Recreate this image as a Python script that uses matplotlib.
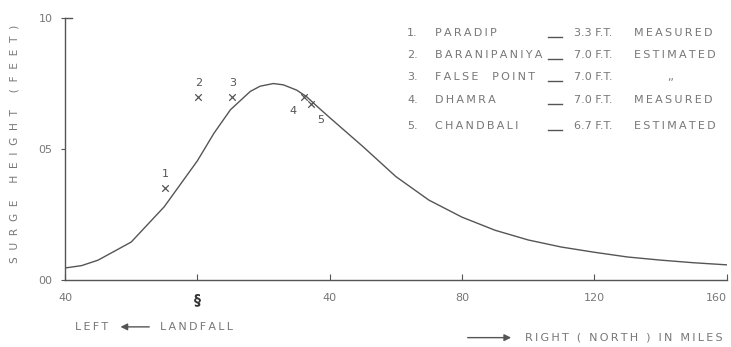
import matplotlib.pyplot as plt

# surge profile (miles from landfall, feet)
dist = [-40, -35, -30, -20, -10, 0, 5, 10, 16, 19, 23, 26, 30, 33, 36, 40,
        50, 60, 70, 80, 90, 100, 110, 120, 130, 140, 150, 160]
surge = [0.46, 0.55, 0.76, 1.45, 2.8, 4.55, 5.6, 6.5, 7.2, 7.4, 7.5, 7.45,
         7.25, 7.0, 6.65, 6.2, 5.1, 3.95, 3.05, 2.4, 1.9, 1.53, 1.26, 1.06,
         0.88, 0.76, 0.66, 0.58]

# observed stations
stn_num = ['1', '2', '3', '4', '5']
stn_x = [-9.7, 0.3, 10.6, 32.3, 34.4]
stn_y = [3.5, 7.0, 7.0, 7.0, 6.7]
stn_name = ['PARADIP', 'BARANIPANIYA', 'FALSE  POINT', 'DHAMRA', 'CHANDBALI']
stn_val = ['3.3 F.T.', '7.0 F.T.', '7.0 F.T.', '7.0 F.T.', '6.7 F.T.']
stn_note = ['MEASURED', 'ESTIMATED', ',,', 'MEASURED', 'ESTIMATED']

xticks = [-40, 0, 40, 80, 120, 160]
xlabels = ['40', '§', '40', '80', '120', '160']
yticks = [0, 5, 10]
ylabels = ['00', '05', '10']

ink = '#555555'
txt = '#777777'


def spaced(s):
    # stencil lettering is widely spaced
    return '\u2009'.join(s)


fig = plt.figure(figsize=(7.31, 3.47), dpi=100)
ax = fig.add_axes([0.089, 0.193, 0.905, 0.755])

ax.plot(dist, surge, color=ink, lw=1.0)
ax.scatter(stn_x, stn_y, marker='x', s=22, color=ink, lw=0.9, zorder=3)

# number labels next to the crosses
offs = [(0, 10), (0, 10), (0, 10), (-8, -10), (7, -11)]
for n, x, y, o in zip(stn_num, stn_x, stn_y, offs):
    ax.annotate(n, (x, y), xytext=o, textcoords='offset points',
                ha='center', va='center', fontsize=8, color=ink)

ax.set_xlim(-40, 160)
ax.set_ylim(0, 10)
ax.set_xticks(xticks)
ax.set_xticklabels(xlabels, fontsize=8, color=txt)
ax.set_yticks(yticks)
ax.set_yticklabels(ylabels, fontsize=8, color=txt)
ax.tick_params(axis='x', direction='in', length=4, color=ink, pad=9)
ax.tick_params(axis='y', direction='out', length=3, color=ink, pad=6)
sym = ax.get_xticklabels()[1]
sym.set_fontweight('bold')
sym.set_fontsize(10)
sym.set_color('#333333')
ax.get_xticklabels()[-1].set_horizontalalignment('right')

for s in ['top', 'right']:
    ax.spines[s].set_visible(False)
for s in ['left', 'bottom']:
    ax.spines[s].set_color(ink)
    ax.spines[s].set_linewidth(1.0)
# little flag at the top of the y axis
ax.plot([-40, -38], [10, 10], color=ink, lw=1.0, clip_on=False)

ax.set_ylabel('S  U  R  G  E     H  E  I  G  H  T     (  F  E  E  T  )',
              fontsize=7.6, color=txt)
ax.yaxis.set_label_coords(-0.069, 0.52)

# station table in the upper right
rows_y = [9.43, 8.59, 7.75, 6.87, 5.88]
for i in range(5):
    ax.text(63.4, rows_y[i], stn_num[i] + '.', fontsize=8, color=txt, va='center')
    ax.text(71.8, rows_y[i], spaced(stn_name[i]), fontsize=8, color=txt, va='center')
    ax.plot([106, 110.3], [rows_y[i] - 0.17] * 2, color=ink, lw=1.0)
    ax.text(114, rows_y[i], stn_val[i], fontsize=8, color=txt, va='center')
    if stn_note[i] == ',,':
        ax.text(143, rows_y[i], stn_note[i], fontsize=8, color=txt, va='center', ha='center')
    else:
        ax.text(132, rows_y[i], spaced(stn_note[i]), fontsize=8, color=txt, va='center')

fig.text(0.103, 0.058, spaced('LEFT'), fontsize=8, color=txt, va='center')
fig.text(0.219, 0.058, spaced('LANDFALL'), fontsize=8, color=txt, va='center')
fig.text(0.718, 0.027, spaced('RIGHT ( NORTH ) IN MILES'), fontsize=8, color=txt, va='center')
arrow = dict(arrowstyle='-|>', color=ink, lw=1.0, mutation_scale=10)
fig.add_artist(plt.Annotation('', xy=(0.161, 0.058), xytext=(0.208, 0.058),
                              xycoords='figure fraction', arrowprops=arrow))
fig.add_artist(plt.Annotation('', xy=(0.703, 0.027), xytext=(0.636, 0.027),
                              xycoords='figure fraction', arrowprops=arrow))

fig.savefig('out.png', dpi=100)
